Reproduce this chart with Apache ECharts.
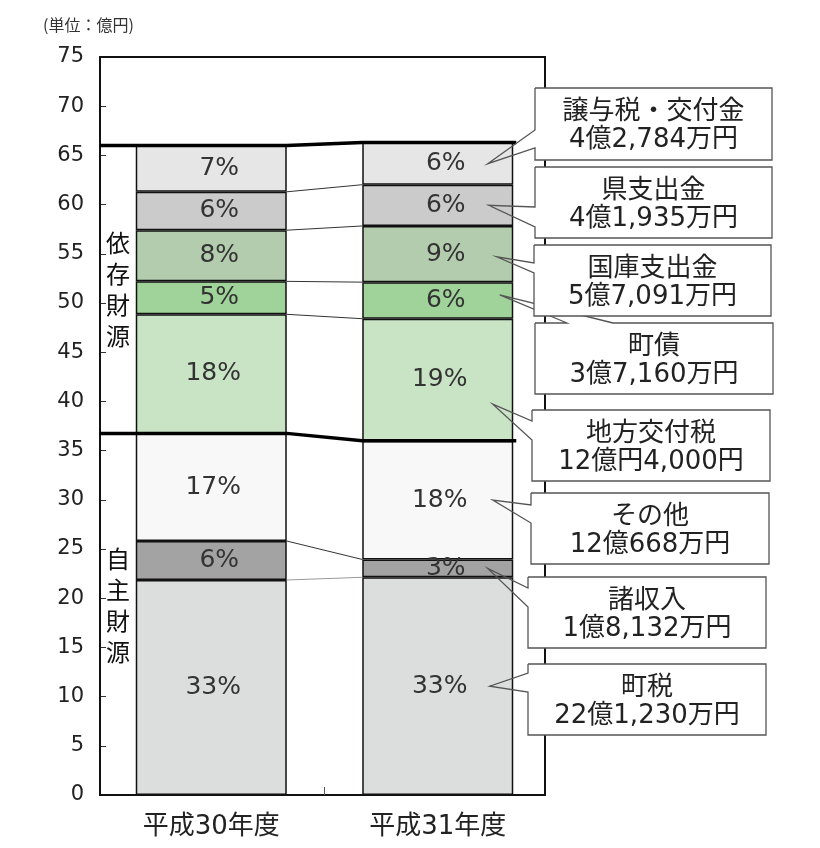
<!DOCTYPE html>
<html><head><meta charset="utf-8">
<script src="https://cdn.jsdelivr.net/npm/echarts@6/dist/echarts.min.js"></script>
<style>html,body{margin:0;padding:0;background:#fff}#c{width:820px;height:848px}</style>
</head><body><div id="c"></div>
<script>
// ---- data ----
const categories = ['平成30年度', '平成31年度'];
const seriesNames = ['町税', '諸収入', 'その他', '地方交付税', '町債', '国庫支出金', '県支出金', '譲与税・交付金'];
const values30 = [21.85, 3.96, 10.94, 12.10, 3.35, 5.20, 3.90, 4.70];
const values31 = [22.123, 1.8132, 12.0668, 12.4, 3.716, 5.7091, 4.1935, 4.2784];
const pct30 = ['33%', '6%', '17%', '18%', '5%', '8%', '6%', '7%'];
const pct31 = ['33%', '3%', '18%', '19%', '6%', '9%', '6%', '6%'];
const amounts31 = ['22億1,230万円', '1億8,132万円', '12億668万円', '12億円4,000円', '3億7,160万円', '5億7,091万円', '4億1,935万円', '4億2,784万円'];
const groupNames = ['自主財源', '依存財源'];
const groupSize = [3, 5];
const unitLabel = '(単位：億円)';

// ---- style / layout ----
const colors = ['#dcdddd', '#a3a3a3', '#f8f8f8', '#c9e4c4', '#a0d39a', '#b3ccae', '#cbcbcb', '#e6e6e6'];
const LAT = '"DejaVu Sans","Noto Sans CJK JP",sans-serif';
const CJK = '"Noto Sans CJK JP","DejaVu Sans",sans-serif';
const GRID = {left: 98, right: 269, top: 57, bottom: 53};
const FRAME = {x1: 100, x2: 545};
const BAR_W = 151;
const groupDy = [-9, 0];
// callout boxes: [x, y, w, h], tail base, tip dx from bar centre, tip position fraction within segment
const callouts = [
  {box: [528, 664, 238, 71], side: 'left', base: [673, 692], dx: 52, f: 0.5},
  {box: [528, 577, 238, 71], side: 'left', base: [588, 607], dx: 50, f: 0.5},
  {box: [531, 493, 238, 71], side: 'left', base: [505, 523], dx: 55, f: 0.5},
  {box: [532, 410, 238, 71], side: 'left', base: [421, 440], dx: 55, f: 0.3},
  {box: [535, 323, 238, 71], side: 'top', base: [567, 613], dx: 62, f: 0.65},
  {box: [534, 245, 237, 71], side: 'left', base: [263, 273], dx: 59, f: 0.45},
  {box: [535, 167, 237, 71], side: 'left', base: [207, 227], dx: 51, f: 0.5},
  {box: [535, 88, 237, 72], side: 'left', base: [130, 148], dx: 50, f: 0.5}
];

const chart = echarts.init(document.getElementById('c'));
function lbl(p) { return {formatter: p, offset: [p.length === 2 ? 8 : 2, 0]}; }

chart.setOption({
  animation: false,
  title: {text: unitLabel, left: 38, top: 12, textStyle: {fontSize: 16, fontWeight: 'normal', color: '#333', fontFamily: CJK}},
  grid: Object.assign({show: false}, GRID),
  xAxis: {
    type: 'category', data: categories,
    axisLine: {show: false},
    axisTick: {show: false},
    axisLabel: {fontSize: 26, color: '#222', margin: 19, fontFamily: LAT}
  },
  yAxis: {
    type: 'value', min: 0, max: 75, interval: 5, offset: -2,
    axisLine: {show: false},
    axisTick: {show: true, inside: true, length: 6, lineStyle: {color: '#333'}},
    splitLine: {show: false},
    axisLabel: {fontSize: 21, color: '#222', margin: 16, fontFamily: LAT}
  },
  series: seriesNames.map((n, i) => ({
    type: 'bar', name: n, stack: 'total', barWidth: BAR_W,
    data: [
      {value: values30[i], label: lbl(pct30[i])},
      {value: values31[i], label: lbl(pct31[i])}
    ],
    itemStyle: {color: colors[i], borderColor: '#111', borderWidth: 1.5},
    label: {show: true, position: 'inside', fontSize: 25, color: '#333', fontFamily: LAT}
  }))
});

// ---- overlays computed from axis scales ----
const P = (ci, v) => chart.convertToPixel({xAxisIndex: 0, yAxisIndex: 0}, [categories[ci], v]);
function cums(arr) { const c = [0]; arr.forEach(v => c.push(c[c.length - 1] + v)); return c; }
const c30 = cums(values30), c31 = cums(values31);
const x30 = P(0, 0)[0], x31 = P(1, 0)[0], hw = BAR_W / 2;
const yTop = P(0, 75)[1], yBot = P(0, 0)[1];
const g = [];

// frame and the category boundary tick
g.push({type: 'rect', z: 8, shape: {x: FRAME.x1, y: yTop, width: FRAME.x2 - FRAME.x1, height: yBot - yTop},
  style: {fill: null, stroke: '#111', lineWidth: 2}});
const xMid = (x30 + x31) / 2;
g.push({type: 'line', z: 8, shape: {x1: xMid, y1: yBot, x2: xMid, y2: yBot - 8}, style: {stroke: '#555', lineWidth: 1}});

// connectors
for (let k = 1; k <= seriesNames.length; k++) {
  const yA = P(0, c30[k])[1], yB = P(1, c31[k])[1];
  const thick = (k === groupSize[0] || k === seriesNames.length);
  if (thick) {
    g.push({type: 'polyline', z: 10, shape: {points: [[FRAME.x1, yA], [x30 + hw, yA], [x31 - hw, yB], [x31 + hw + 3, yB]]},
      style: {stroke: '#000', lineWidth: 3.5, fill: null}});
  } else {
    g.push({type: 'line', z: 10, shape: {x1: x30 + hw, y1: yA, x2: x31 - hw, y2: yB},
      style: {stroke: k === 1 ? '#999' : '#333', lineWidth: 1}});
  }
}

// group labels
let start = 0;
groupNames.forEach((nm, gi) => {
  const lo = c30[start], hi = c30[start + groupSize[gi]];
  const y = P(0, (lo + hi) / 2)[1] + groupDy[gi];
  g.push({type: 'text', z: 12, style: {text: nm.split('').join('\n'), x: (FRAME.x1 + x30 - hw) / 2, y: y,
    textAlign: 'center', textVerticalAlign: 'middle', align: 'center', verticalAlign: 'middle',
    font: '24px ' + CJK, lineHeight: 31, fill: '#111'}});
  start += groupSize[gi];
});

// callouts
callouts.forEach((c, i) => {
  const [bx, by, bw, bh] = c.box;
  const tip = [x31 + c.dx, P(1, c31[i] + values31[i] * c.f)[1]];
  let pts;
  if (c.side === 'left') {
    pts = [[bx, by], [bx + bw, by], [bx + bw, by + bh], [bx, by + bh], [bx, c.base[1]], tip, [bx, c.base[0]], [bx, by]];
  } else {
    pts = [[bx, by], [c.base[0], by], tip, [c.base[1], by], [bx + bw, by], [bx + bw, by + bh], [bx, by + bh], [bx, by]];
  }
  const z = 30 + 2 * i;
  g.push({type: 'rect', z: z, shape: {x: bx, y: by, width: bw, height: bh}, style: {fill: '#fff', stroke: null}});
  g.push({type: 'polyline', z: z + 1, shape: {points: pts}, style: {stroke: '#555', lineWidth: 1.3, fill: null}});
  [seriesNames[i], amounts31[i]].forEach((t, li) => {
    g.push({type: 'text', z: z + 1, style: {text: t, x: bx + bw / 2, y: by + 24 + li * 28,
      textAlign: 'center', textVerticalAlign: 'middle', align: 'center', verticalAlign: 'middle',
      font: '26px ' + LAT, fill: '#222'}});
  });
});

chart.setOption({graphic: {elements: g}});
</script>
</body></html>
